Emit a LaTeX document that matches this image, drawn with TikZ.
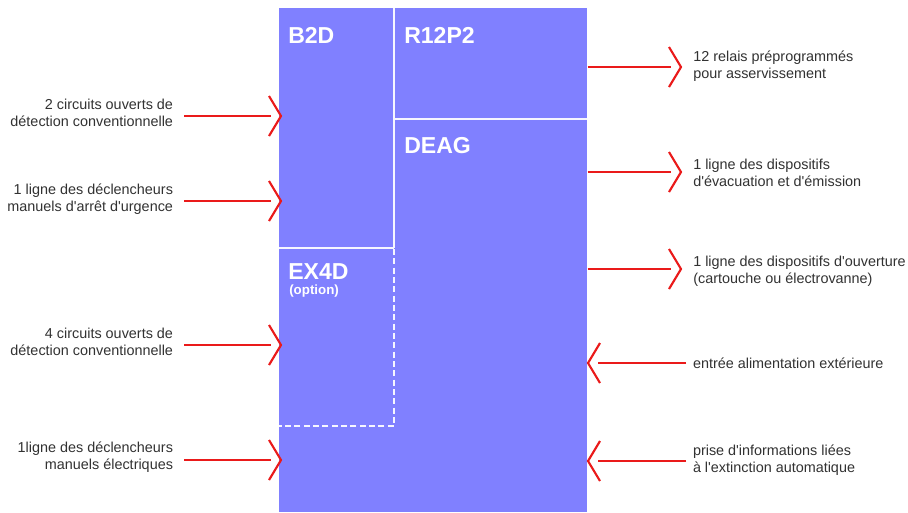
\documentclass[tikz,border=0pt]{standalone}
\usepackage{fontspec}
\setmainfont{Liberation Sans}[Ligatures=TeXOff]
\usetikzlibrary{calc}
\definecolor{unitBlue}{RGB}{128,128,255}
\definecolor{sigRed}{RGB}{234,26,26}
\definecolor{labelGray}{RGB}{50,50,50}
\definecolor{sepWhite}{RGB}{246,246,255}
% signal arrows: straight line ending in an open chevron
\newcommand{\SigRight}[2]{%
  \draw[sigline] (#1) -- ($(#2)+(-10,0)$);
  \draw[sigline] ($(#2)+(-12,-20)$) -- (#2) -- ($(#2)+(-12,20)$);}
\newcommand{\SigLeft}[2]{%
  \draw[sigline] (#1) -- ($(#2)+(10,0)$);
  \draw[sigline] ($(#2)+(12,-20)$) -- (#2) -- ($(#2)+(12,20)$);}

\begin{document}
\begin{tikzpicture}[x=0.75pt,y=-0.75pt,
  sigline/.style={draw=sigRed,line width=1.6pt,line join=miter},
  note/.style={font=\fontsize{10.8}{12.75}\selectfont,text=labelGray,inner sep=0pt},
  noteL/.style={note,align=right,anchor=east,outer xsep=8.25pt},
  noteR/.style={note,align=left,anchor=west},
  noteIn/.style={note,align=left,anchor=west,outer xsep=5.25pt},
  partname/.style={font=\bfseries\fontsize{17.3}{20}\selectfont,text=white,inner sep=0pt,anchor=base west},
  seprule/.style={draw=sepWhite,line width=2pt},
  optrule/.style={draw=sepWhite,line width=1.6pt,dash pattern=on 4.5pt off 2.5pt}]
\useasboundingbox (0,0) rectangle (908,512);
\fill[white] (0,0) rectangle (908,512);

% the unit and its modules
\node[fill=unitBlue,inner sep=0pt,minimum width=231pt,minimum height=378pt,anchor=north west] (unit) at (279,8) {};
\draw[seprule] (394,8) -- (394,248);
\draw[seprule] (279,248) -- (394,248);
\draw[seprule] (394,119) -- (587,119);
\draw[optrule] (394,249) -- (394,426) -- (279,426);

\node[partname] (b2d) at (288,43) {B2D};
\node[partname] (r12) at (404,43) {R12P2};
\node[partname] (deag) at (404,153) {DEAG};
\node[partname] (ex4d) at (288,279) {EX4D};
\node[font=\bfseries\fontsize{10}{12}\selectfont,text=white,inner sep=0pt,anchor=base west] (opt) at (289,294) {(option)};

% inputs on the left
\node[noteL] (det2) at (184,113) {2 circuits ouverts de\\détection conventionnelle};
\node[noteL] (dmu) at (184,199) {1 ligne des déclencheurs\\manuels d'arrêt d'urgence};
\node[noteL] (det4) at (184,342) {4 circuits ouverts de\\détection conventionnelle};
\node[noteL] (dme) at (184,457) {1ligne des déclencheurs\\manuels électriques};
\coordinate (tDet2) at (281,116);
\coordinate (tDmu) at (281,201);
\coordinate (tDet4) at (281,345);
\coordinate (tDme) at (281,460);
\SigRight{det2.east |- tDet2}{tDet2}
\SigRight{dmu.east |- tDmu}{tDmu}
\SigRight{det4.east |- tDet4}{tDet4}
\SigRight{dme.east |- tDme}{tDme}

% outputs on the right
\node[noteR] (rel) at (693,66) {12 relais préprogrammés\\pour asservissement};
\node[noteR] (evac) at (693,173) {1 ligne des dispositifs\\d'évacuation et d'émission};
\node[noteR] (ouv) at (693,271) {1 ligne des dispositifs d'ouverture\\(cartouche ou électrovanne)};
\coordinate (tRel) at (681,67);
\coordinate (tEvac) at (681,172);
\coordinate (tOuv) at (681,269);
\SigRight{unit.east |- tRel}{tRel}
\SigRight{unit.east |- tEvac}{tEvac}
\SigRight{unit.east |- tOuv}{tOuv}

% inputs on the right
\node[noteIn] (alim) at (686,363) {entrée alimentation extérieure};
\node[noteIn] (ext) at (686,460) {prise d'informations liées\\à l'extinction automatique};
\coordinate (tAlim) at (588,363);
\coordinate (tExt) at (588,461);
\SigLeft{alim.west |- tAlim}{tAlim}
\SigLeft{ext.west |- tExt}{tExt}
\end{tikzpicture}
\end{document}
